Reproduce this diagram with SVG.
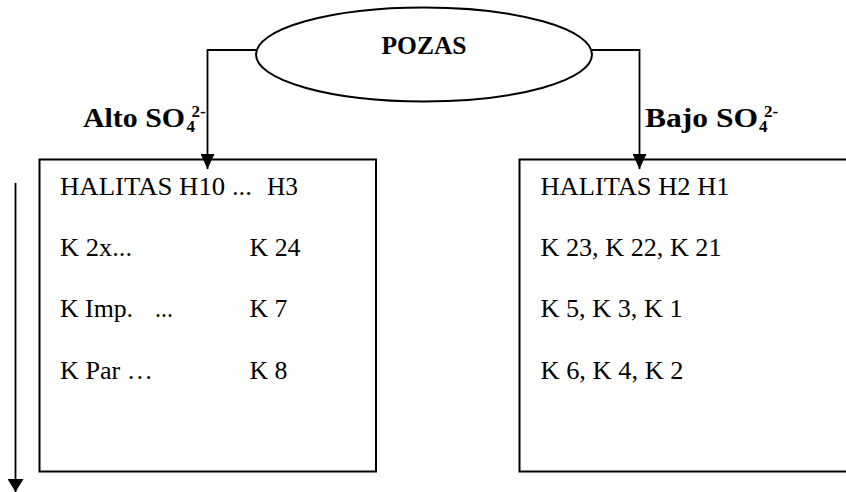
<svg xmlns="http://www.w3.org/2000/svg" width="846" height="492" viewBox="0 0 846 492">
<defs>
<style>
.box{fill:#fff;stroke:#000;stroke-width:2}
.conn{fill:none;stroke:#000;stroke-width:1.8}
.t{font-family:"Liberation Serif","Times New Roman",serif;font-size:25.5px;fill:#000}
.b{font-family:"Liberation Serif","Times New Roman",serif;font-weight:bold;fill:#000}
</style>
<marker id="ah" markerUnits="userSpaceOnUse" markerWidth="15" markerHeight="14" refX="15" refY="7" orient="auto">
<path d="M0,0 L15,7 L0,14 z" fill="#000"/>
</marker>
<marker id="ah2" markerUnits="userSpaceOnUse" markerWidth="13" markerHeight="16" refX="13" refY="8" orient="auto">
<path d="M0,0 L13,8 L0,16 z" fill="#000"/>
</marker>
</defs>
<g id="left-box">
<rect class="box" x="39.5" y="159.5" width="336.5" height="312"/>
<text class="t" x="60" y="195" textLength="192" lengthAdjust="spacingAndGlyphs">HALITAS H10 ...</text>
<text class="t" x="267" y="195" textLength="31" lengthAdjust="spacingAndGlyphs">H3</text>
<text class="t" x="60" y="256" textLength="72" lengthAdjust="spacingAndGlyphs">K 2x...</text>
<text class="t" x="249.5" y="256" textLength="51" lengthAdjust="spacingAndGlyphs">K 24</text>
<text class="t" x="60" y="317" textLength="73" lengthAdjust="spacingAndGlyphs">K Imp.</text>
<text class="t" x="155" y="317" textLength="18" lengthAdjust="spacingAndGlyphs">...</text>
<text class="t" x="249.5" y="317" textLength="38" lengthAdjust="spacingAndGlyphs">K 7</text>
<text class="t" x="60" y="379" textLength="93" lengthAdjust="spacingAndGlyphs">K Par …</text>
<text class="t" x="249.5" y="379" textLength="38" lengthAdjust="spacingAndGlyphs">K 8</text>
</g>
<g id="right-box">
<rect class="box" x="519.5" y="159.5" width="340" height="312"/>
<text class="t" x="540.5" y="195" textLength="189" lengthAdjust="spacingAndGlyphs">HALITAS H2 H1</text>
<text class="t" x="540.5" y="256" textLength="181" lengthAdjust="spacingAndGlyphs">K 23, K 22, K 21</text>
<text class="t" x="540.5" y="317" textLength="142" lengthAdjust="spacingAndGlyphs">K 5, K 3, K 1</text>
<text class="t" x="540.5" y="379" textLength="143" lengthAdjust="spacingAndGlyphs">K 6, K 4, K 2</text>
</g>
<g id="pozas">
<ellipse cx="424" cy="54.5" rx="168" ry="47" fill="#fff" stroke="#000" stroke-width="2"/>
<text class="b" x="381.5" y="54.3" font-size="25.5" textLength="85" lengthAdjust="spacingAndGlyphs">POZAS</text>
</g>
<g id="connectors">
<path class="conn" d="M256,50 H207.5 V169" marker-end="url(#ah)"/>
<path class="conn" d="M592,50 H639.5 V169" marker-end="url(#ah)"/>
<path class="conn" d="M15.5,183 V492" marker-end="url(#ah2)"/>
</g>
<g id="labels">
<text class="b" x="83" y="127" font-size="27" textLength="102" lengthAdjust="spacingAndGlyphs">Alto SO</text>
<text class="b" x="186.5" y="132" font-size="17">4</text>
<text class="b" x="191.5" y="116.5" font-size="17">2-</text>
<text class="b" x="645" y="127" font-size="27" textLength="113" lengthAdjust="spacingAndGlyphs">Bajo SO</text>
<text class="b" x="759" y="132" font-size="17">4</text>
<text class="b" x="764" y="116.5" font-size="17">2-</text>
</g>
</svg>
